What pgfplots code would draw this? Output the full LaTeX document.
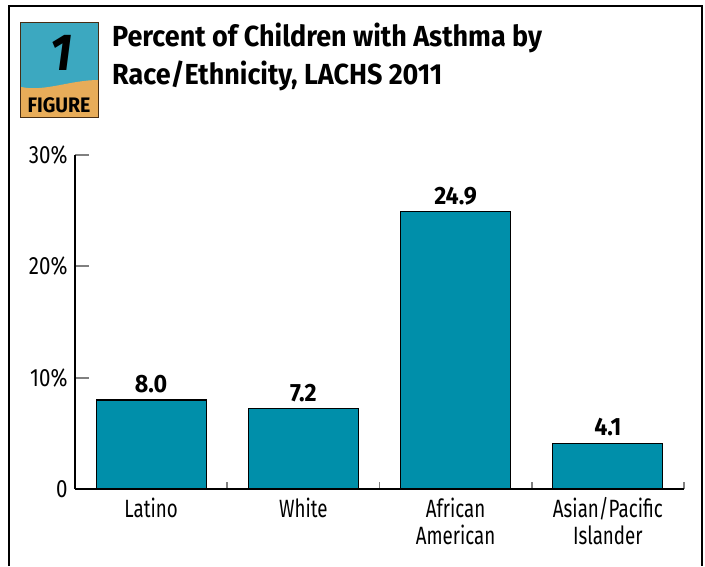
\documentclass[border=0pt]{standalone}
\usepackage{pgfplots}
\pgfplotsset{compat=1.18}
\usepackage{fontspec}
\setmainfont{Fira Sans}[FakeStretch=0.75]
\newfontfamily\bcond{Fira Sans}[FakeStretch=0.93]
\newfontfamily\ycond{Fira Sans}[FakeStretch=0.82]
\definecolor{barteal}{RGB}{0,143,170}
\definecolor{badgeteal}{RGB}{60,168,192}
\definecolor{badgeorange}{RGB}{231,172,89}
\definecolor{badgeedge}{RGB}{70,45,20}

\pgfplotstableread{
x val
0 8.0
1 7.2
2 24.9
3 4.1
}\asthma

\begin{document}
\begin{tikzpicture}[x=1pt,y=1pt]
\begin{axis}[
  scale only axis, width=609pt, height=334pt,
  xmin=-0.5, xmax=3.5, ymin=0, ymax=30,
  axis x line*=bottom, axis y line*=left,
  axis line style={-, line width=1.8pt},
  tick align=inside,
  xtick={0,1,2,3},
  xticklabels={Latino,White,{African\\American},{Asian/Pacific\\Islander}},
  minor xtick={0.5,1.5,2.5,3.5},
  major x tick style={draw=none},
  minor x tick style={line width=1.8pt},
  minor tick length=7pt,
  ytick={0,10,20,30},
  yticklabels={0,10\%,20\%,30\%},
  major y tick style={line width=1.8pt},
  major tick length=14pt,
  xticklabel style={align=center, font=\fontsize{25}{27}\selectfont, anchor=north, yshift=-5pt},
  yticklabel style={font=\ycond\fontsize{25}{25}\selectfont, xshift=-4pt},
  /pgf/number format/assume math mode=true,
  nodes near coords,
  nodes near coords style={font=\bcond\bfseries\fontsize{25}{25}\selectfont, yshift=3pt,
    /pgf/number format/.cd, fixed, fixed zerofill, precision=1},
]
\addplot[ybar, bar width=110pt, fill=barteal, draw=black, line width=1.2pt] table[x=x, y=val] {\asthma};
\coordinate (O) at (rel axis cs:0,0);
\end{axis}
\pgfresetboundingbox
\begin{scope}[shift={(O)}]
\begin{scope}[shift={(-75,-77)}]
\path[use as bounding box] (0,0) rectangle (705,566);
% frame
\draw[line width=2.5pt] (9,0) -- (9,560) -- (702,560) -- (702,0);
% badge
\fill[badgeteal] (21,448) rectangle (99,543);
\fill[badgeorange] (21,448) -- (21,479) .. controls (45,474) and (70,486) .. (99,486) -- (99,448) -- cycle;
\draw[badgeedge, line width=1pt] (21,448) rectangle (99,543);
\node[font=\bcond\bfseries\itshape\fontsize{52}{52}\selectfont] at (61,513) {1};
\node[font=\bcond\bfseries\fontsize{21}{21}\selectfont] at (59,461) {FIGURE};
% title
\node[anchor=base west, font=\bcond\bfseries\fontsize{29}{29}\selectfont, inner sep=0pt] at (112,519) {Percent of Children with Asthma by};
\node[anchor=base west, font=\bcond\bfseries\fontsize{29}{29}\selectfont, inner sep=0pt] at (112,481) {Race/Ethnicity, LACHS 2011};
\end{scope}
\end{scope}
\end{tikzpicture}
\end{document}
